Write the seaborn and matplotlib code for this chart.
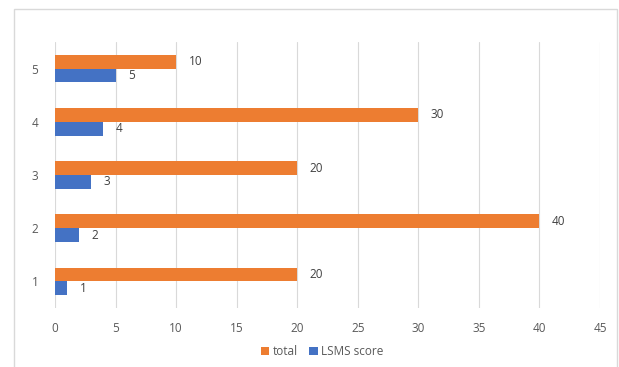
import matplotlib
matplotlib.use("Agg")
import matplotlib.pyplot as plt
import seaborn as sns
import pandas as pd
from matplotlib.patches import Rectangle

categories = ["1", "2", "3", "4", "5"]
total = [20, 40, 20, 30, 10]
lsms = [1, 2, 3, 4, 5]
series_names = ["total", "LSMS score"]
xticks = [0, 5, 10, 15, 20, 25, 30, 35, 40, 45]

df = pd.DataFrame({
    "cat": categories * 2,
    "value": total + lsms,
    "series": [series_names[0]] * 5 + [series_names[1]] * 5,
})

sns.set_theme(style="white")
plt.rcParams["font.family"] = ["Open Sans", "DejaVu Sans"]

W, H = 619, 367
fig = plt.figure(figsize=(W / 100, H / 100), dpi=100)
ax = fig.add_axes([55 / W, 1 - 308 / H, (600 - 55) / W, (308 - 42) / H])

palette = {"total": "#ED7D31", "LSMS score": "#4472C4"}
sns.barplot(data=df, y="cat", x="value", hue="series", order=categories[::-1],
            hue_order=series_names, palette=palette, orient="h", width=0.52,
            ax=ax, saturation=1, legend=True, linewidth=0)

ax.set_xlim(0, 45)
ax.set_xticks(xticks)
ax.grid(axis="x", color="#d9d9d9", linewidth=0.8)
ax.set_axisbelow(True)
for s in ax.spines.values():
    s.set_visible(False)
ax.tick_params(axis="both", length=0, labelsize=8.5, colors="#595959")
ax.tick_params(axis="y", pad=12)
ax.tick_params(axis="x", pad=10)
ax.set_xlabel("")
ax.set_ylabel("")

for cont in ax.containers:
    ax.bar_label(cont, padding=9, fontsize=8.5, color="#404040")

leg = ax.legend(loc="upper center", bbox_to_anchor=(0.49, -0.1), ncol=2,
                frameon=False, fontsize=8.5, handlelength=0.7, handleheight=0.7,
                handletextpad=0.3, columnspacing=1.0, labelcolor="#595959")

fig.patches.append(Rectangle((14 / W, -0.05), (617 - 14) / W, 1.05 - 9 / H,
                             transform=fig.transFigure, fill=False,
                             edgecolor="#d9d9d9", linewidth=1))

fig.savefig("out.png", dpi=100)
